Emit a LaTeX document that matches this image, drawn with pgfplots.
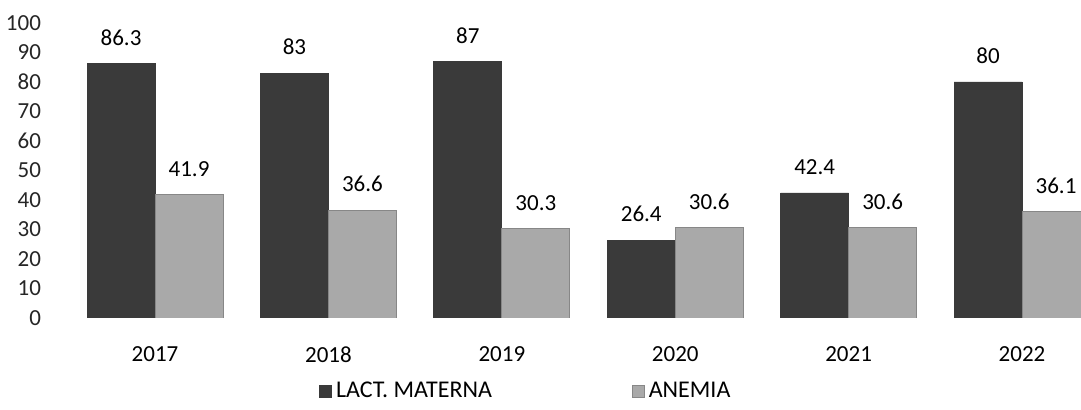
\documentclass[border=0pt]{standalone}
\usepackage{fontspec}
\setmainfont{Carlito}
\usepackage{pgfplots}
\pgfplotsset{compat=1.18}
\definecolor{darkbar}{HTML}{3A3A3A}
\definecolor{lightbar}{HTML}{A9A9A9}
\begin{document}
\fontsize{11.5}{13.5}\selectfont
\begin{tikzpicture}
\path[use as bounding box] (-25.5pt,-46pt) rectangle (515pt,159pt);
\begin{axis}[
  at={(0pt,0pt)}, anchor=south west,
  scale only axis, width=515pt, height=147.5pt,
  ybar=0pt, bar width=34pt,
  xmin=-0.6, xmax=5.34, ymin=0, ymax=100,
  xtick={0,1,2,3,4,5},
  xticklabels={2017,2018,2019,2020,2021,2022},
  ytick={0,10,...,100},
  axis line style={draw=none},
  tick style={draw=none},
  /pgf/number format/assume math mode=true,
  xticklabel style={yshift=-6pt},
  yticklabel style={xshift=-1pt, text=black!85},
  nodes near coords,
  every node near coord/.append style={yshift=5pt, text=black},
  legend style={at={(0.462,-0.25)}, anchor=center, draw=none, legend columns=2,
    font=\fontsize{12}{14}\selectfont,
    /tikz/every even column/.append style={column sep=68pt}},
  legend image code/.code={\fill[#1] (0pt,-3pt) rectangle (6pt,3pt);},
]
\addplot[fill=darkbar, draw=darkbar] coordinates {(0,86.3) (1,83) (2,87) (3,26.4) (4,42.4) (5,80)};
\addplot[fill=lightbar, draw=lightbar!80!black] coordinates {(0,41.9) (1,36.6) (2,30.3) (3,30.6) (4,30.6) (5,36.1)};
\legend{LACT. MATERNA, ANEMIA}
\end{axis}
\end{tikzpicture}
\end{document}
